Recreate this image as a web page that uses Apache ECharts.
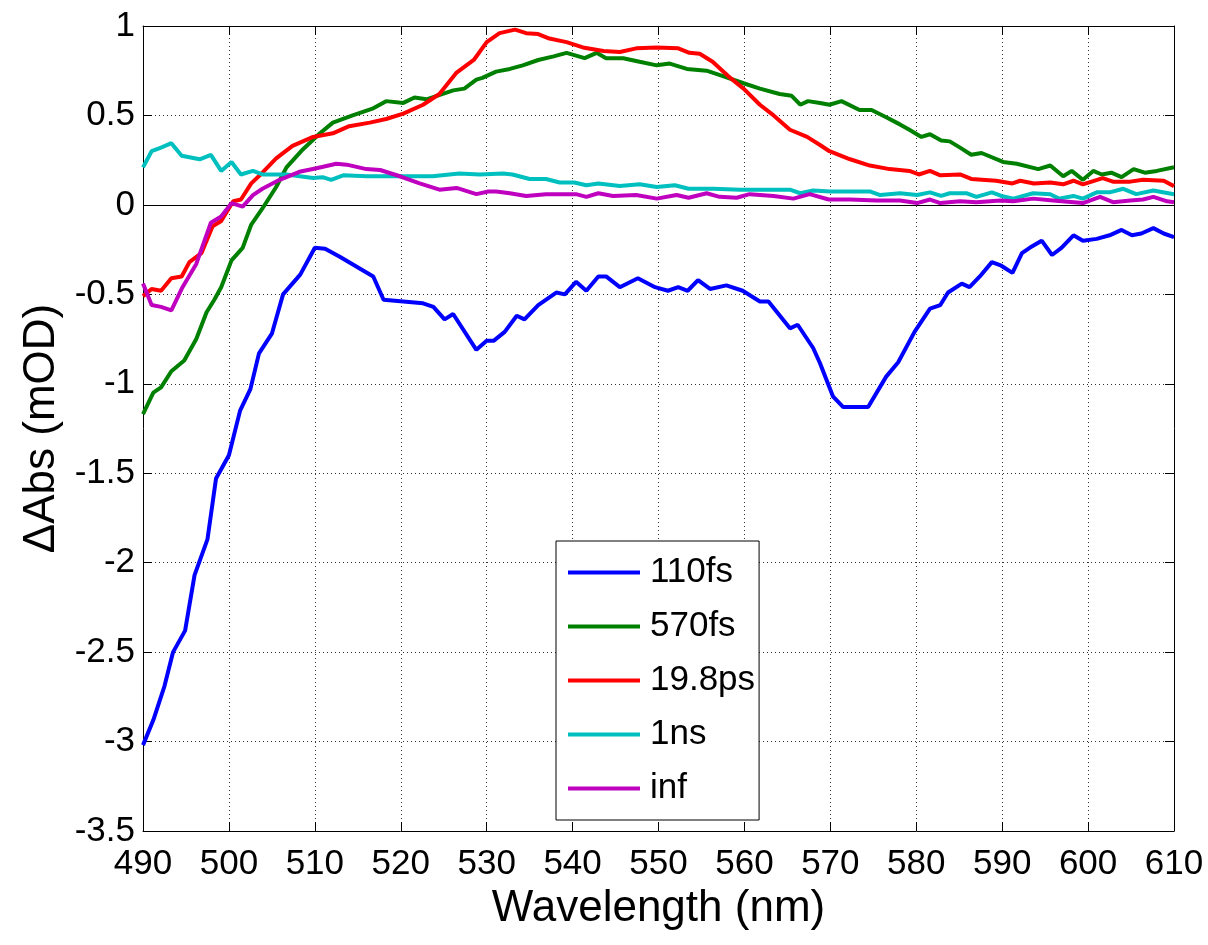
<!DOCTYPE html>
<html>
<head>
<meta charset="utf-8">
<script src="https://cdn.jsdelivr.net/npm/echarts@6/dist/echarts.min.js"></script>
<style>
html,body{margin:0;padding:0;background:#fff;}
#chart{width:1208px;height:945px;}
</style>
</head>
<body>
<div id="chart"></div>
<script>
// Legend names
const seriesNames = ['110fs', '570fs', '19.8ps', '1ns', 'inf'];
// [wavelength (nm), ΔAbs (mOD)]
const fs110 = [[490,-3.02],[491.2,-2.88],[492.5,-2.69],[493.5,-2.50],[494.9,-2.38],[496,-2.07],[497.5,-1.87],[498.5,-1.53],[500,-1.40],[501.3,-1.15],[502.5,-1.03],[503.5,-0.83],[505,-0.72],[506.3,-0.50],[508.3,-0.39],[510,-0.24],[511.2,-0.245],[512.9,-0.29],[516.8,-0.40],[518,-0.53],[522.6,-0.55],[523.8,-0.57],[525.1,-0.64],[526.1,-0.61],[528.8,-0.81],[530,-0.76],[530.8,-0.76],[532.1,-0.71],[533.5,-0.62],[534.4,-0.64],[536,-0.56],[538.1,-0.49],[539.1,-0.50],[540.4,-0.43],[541.6,-0.48],[543,-0.40],[543.9,-0.40],[545.5,-0.46],[547.6,-0.41],[549.6,-0.46],[551.1,-0.48],[552.3,-0.46],[553.4,-0.48],[554.6,-0.42],[556,-0.47],[557.9,-0.45],[559.8,-0.48],[561.8,-0.54],[562.8,-0.54],[565.3,-0.69],[566.2,-0.67],[568,-0.80],[568.8,-0.885],[570.3,-1.07],[571.5,-1.13],[574.4,-1.13],[576.5,-0.96],[577.9,-0.88],[579.8,-0.71],[581.6,-0.58],[582.8,-0.56],[583.7,-0.49],[585.3,-0.44],[586.2,-0.46],[587.4,-0.40],[588.8,-0.32],[589.9,-0.34],[591.2,-0.38],[592.3,-0.27],[593.2,-0.24],[594.6,-0.20],[595.8,-0.28],[596.9,-0.24],[598.3,-0.17],[599.4,-0.20],[601,-0.19],[602.5,-0.17],[603.9,-0.14],[605.1,-0.17],[606.2,-0.16],[607.6,-0.13],[608.8,-0.16],[610,-0.18]];
const fs570 = [[490,-1.17],[491.2,-1.05],[492.1,-1.02],[493.3,-0.93],[494.8,-0.87],[496.2,-0.75],[497.4,-0.60],[498.3,-0.53],[499.1,-0.46],[500.3,-0.31],[501.6,-0.24],[502.6,-0.11],[503.9,-0.02],[505.5,0.10],[506.7,0.21],[508.6,0.31],[510.6,0.40],[512.1,0.46],[514.4,0.50],[516.8,0.54],[518.3,0.58],[520.3,0.57],[521.6,0.60],[523,0.59],[526.1,0.64],[527.4,0.65],[528.8,0.70],[529.5,0.71],[531.1,0.745],[532.7,0.76],[534.2,0.78],[536,0.81],[537.8,0.83],[539.3,0.85],[541.4,0.82],[542.8,0.85],[543.9,0.82],[545.9,0.82],[547.8,0.80],[549.8,0.78],[551.3,0.79],[553.3,0.76],[555.6,0.75],[557.5,0.72],[559.9,0.68],[561.8,0.65],[564.1,0.62],[565.5,0.61],[566.5,0.56],[567.4,0.58],[568.8,0.57],[569.9,0.56],[571.3,0.58],[573.4,0.53],[574.8,0.53],[576.5,0.49],[578.1,0.45],[579.2,0.42],[580.6,0.38],[581.6,0.395],[582.9,0.36],[583.9,0.355],[585.1,0.32],[586.4,0.28],[587.6,0.29],[590.1,0.24],[591.7,0.23],[594.2,0.20],[595.6,0.22],[597.1,0.16],[598.1,0.19],[599.4,0.14],[600.6,0.19],[601.6,0.17],[602.7,0.18],[603.9,0.155],[605.3,0.20],[606.6,0.18],[608,0.19],[610,0.21]];
const ps198 = [[490,-0.51],[491,-0.47],[492.1,-0.48],[493.3,-0.41],[494.5,-0.40],[495.4,-0.32],[496.8,-0.27],[498.1,-0.12],[499.1,-0.09],[500.5,0.02],[501.4,0.03],[502.6,0.12],[503.9,0.18],[505.5,0.26],[507.4,0.33],[509.8,0.38],[512.1,0.40],[514,0.44],[516.4,0.46],[518.3,0.48],[520.3,0.51],[522.6,0.56],[524.5,0.62],[526.5,0.74],[528.5,0.81],[530,0.91],[531.5,0.96],[533.3,0.98],[534.6,0.96],[536,0.955],[537.3,0.93],[539.3,0.91],[541.2,0.88],[543.6,0.86],[545.5,0.855],[547.4,0.875],[549.8,0.88],[552.3,0.875],[553.6,0.85],[554.8,0.845],[556.3,0.80],[558.1,0.72],[559.9,0.65],[561.8,0.56],[563.4,0.50],[565.3,0.42],[567.3,0.38],[568.8,0.335],[569.9,0.30],[572.3,0.255],[574.6,0.22],[576.9,0.20],[579.2,0.19],[580.3,0.17],[581.6,0.19],[582.8,0.165],[585.1,0.17],[586.4,0.145],[589.3,0.135],[591.2,0.12],[592.1,0.135],[593.7,0.12],[595.6,0.125],[597.1,0.115],[598.3,0.135],[599.4,0.115],[601.7,0.15],[602.9,0.13],[604.9,0.13],[606.4,0.14],[608.8,0.135],[610,0.105]];
const ns1 = [[490,0.21],[491,0.30],[492.1,0.32],[493.3,0.345],[494.5,0.275],[496.6,0.255],[497.9,0.28],[499.1,0.19],[500.3,0.24],[501.4,0.17],[502.8,0.19],[503.9,0.17],[506.7,0.17],[509.8,0.15],[510.9,0.155],[511.9,0.14],[513.3,0.165],[516,0.16],[518.3,0.16],[520.6,0.16],[523.7,0.16],[526.8,0.175],[529.2,0.17],[531.9,0.175],[533,0.17],[535,0.145],[536.9,0.145],[538.5,0.125],[540.2,0.125],[541.6,0.11],[543,0.12],[545.5,0.105],[547.8,0.115],[549.8,0.10],[551.9,0.11],[553.5,0.09],[556.4,0.09],[559.5,0.085],[562.6,0.085],[565.3,0.085],[566.5,0.065],[568,0.08],[570,0.075],[574.6,0.075],[575.8,0.055],[578.1,0.065],[580.1,0.055],[581.6,0.07],[582.9,0.05],[583.9,0.065],[585.9,0.065],[587,0.045],[588.8,0.07],[589.9,0.05],[591.3,0.035],[593.6,0.065],[595.6,0.06],[596.6,0.035],[598.3,0.05],[599.4,0.035],[601,0.07],[602.5,0.07],[604.1,0.09],[605.6,0.06],[607.6,0.08],[610,0.06]];
const infin = [[490,-0.44],[491,-0.56],[492.1,-0.57],[493.3,-0.59],[494.6,-0.46],[496.2,-0.33],[497.9,-0.10],[499.1,-0.065],[500.3,0.01],[501.6,-0.01],[502.8,0.055],[503.9,0.09],[505.9,0.14],[508.2,0.185],[510.2,0.205],[512.5,0.23],[513.7,0.225],[516,0.20],[517.6,0.195],[519.9,0.16],[522.2,0.12],[524.5,0.085],[526.5,0.095],[528.8,0.06],[530.2,0.075],[531.1,0.075],[532.7,0.065],[534.6,0.05],[536.9,0.06],[540.4,0.06],[541.6,0.045],[543,0.065],[544.7,0.05],[547.4,0.055],[549.8,0.035],[552.1,0.055],[553.5,0.04],[555.6,0.065],[557.1,0.045],[559.1,0.04],[560.6,0.06],[563.4,0.05],[565.7,0.035],[567.6,0.06],[569.8,0.03],[572.3,0.03],[575.4,0.025],[578.1,0.025],[580.1,0.01],[581.6,0.03],[582.8,0.01],[585.1,0.02],[587,0.015],[589.8,0.025],[591.3,0.02],[593.6,0.035],[595.9,0.025],[599.4,0.01],[601.4,0.045],[602.9,0.015],[604.9,0.025],[606.4,0.03],[607.6,0.045],[609.2,0.02],[610,0.015]];
const seriesData = [fs110, fs570, ps198, ns1, infin];
const colors = ['#0000ff', '#008000', '#ff0000', '#00bfbf', '#bf00bf'];
// Axis ranges and ticks
const xMin = 490, xMax = 610, xStep = 10;
const yMin = -3.5, yMax = 1, yStep = 0.5;

const FONT = '"Liberation Sans", Arial, Helvetica, sans-serif';
const chart = echarts.init(document.getElementById('chart'), null, {renderer: 'canvas'});

const gridLine = {show: true, lineStyle: {color: '#333', width: 1, type: [1, 3]}};
const boxLine = {show: true, onZero: false, lineStyle: {color: '#000', width: 1}};
const tickIn = {show: true, inside: true, length: 9, lineStyle: {color: '#000', width: 1}};

const series = seriesNames.map((n, i) => ({
  name: n,
  type: 'line',
  data: seriesData[i],
  showSymbol: false,
  symbol: 'none',
  animation: false,
  lineStyle: {color: colors[i], width: 4},
  itemStyle: {color: colors[i]},
  z: 3 + i
}));
series[0].markLine = {
  silent: true,
  symbol: 'none',
  label: {show: false},
  animation: false,
  lineStyle: {color: '#000', width: 1, type: 'solid'},
  data: [{yAxis: 0}],
  z: 2
};

chart.setOption({
  backgroundColor: '#fff',
  animation: false,
  color: colors,
  grid: {left: 143, right: 34, top: 26, bottom: 114, containLabel: false, outerBoundsMode: 'none',
         show: false},
  legend: {
    orient: 'vertical',
    left: 556, top: 541,
    data: seriesNames,
    icon: 'rect',
    itemWidth: 72, itemHeight: 4,
    itemGap: 19,
    padding: [14, 4, 14, 12],
    borderColor: '#000', borderWidth: 1,
    backgroundColor: '#fff',
    selectedMode: false,
    textStyle: {fontFamily: FONT, fontSize: 35, color: '#000', lineHeight: 35, padding: [0, 0, 0, 5]}
  },
  xAxis: [{
    type: 'value', min: xMin, max: xMax, interval: xStep, position: 'bottom',
    name: 'Wavelength (nm)', nameLocation: 'middle', nameGap: 56,
    nameTextStyle: {fontFamily: FONT, fontSize: 44, color: '#000'},
    axisLine: boxLine, axisTick: tickIn, splitLine: gridLine,
    axisLabel: {fontFamily: FONT, fontSize: 35, color: '#000', margin: 16}
  }, {
    type: 'value', min: xMin, max: xMax, interval: xStep, position: 'top',
    axisLine: boxLine, axisTick: tickIn, splitLine: {show: false},
    axisLabel: {show: false}
  }],
  yAxis: [{
    type: 'value', min: yMin, max: yMax, interval: yStep, position: 'left',
    name: 'ΔAbs (mOD)', nameLocation: 'middle', nameGap: 79,
    nameTextStyle: {fontFamily: FONT, fontSize: 44, color: '#000'},
    axisLine: boxLine, axisTick: tickIn, splitLine: gridLine,
    axisLabel: {fontFamily: FONT, fontSize: 35, color: '#000', margin: 8}
  }, {
    type: 'value', min: yMin, max: yMax, interval: yStep, position: 'right',
    axisLine: boxLine, axisTick: tickIn, splitLine: {show: false},
    axisLabel: {show: false}
  }],
  series: series
});
</script>
</body>
</html>
